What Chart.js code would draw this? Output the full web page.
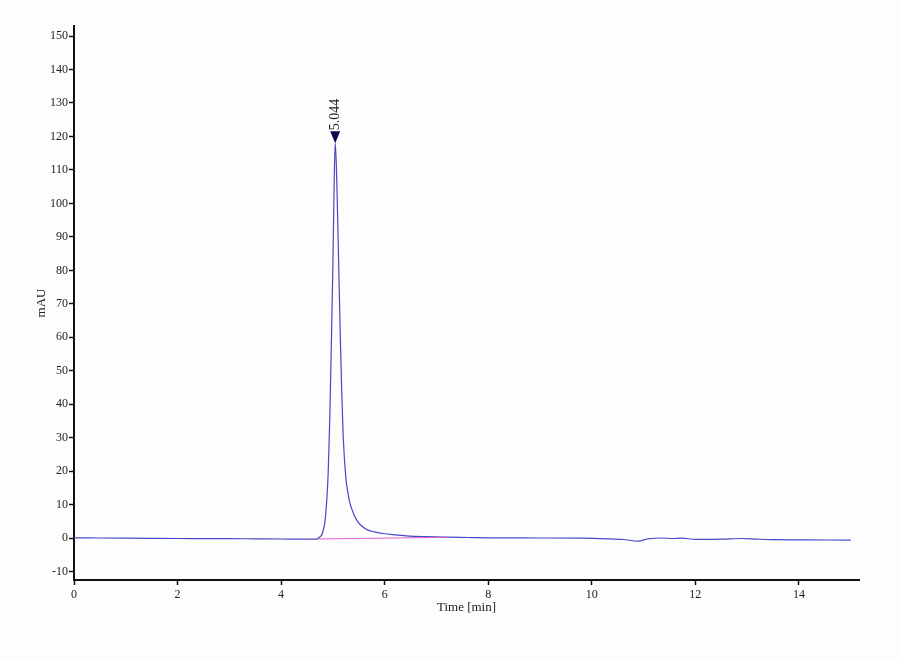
<!DOCTYPE html>
<html>
<head>
<meta charset="utf-8">
<script src="https://cdn.jsdelivr.net/npm/chart.js@4.4.1/dist/chart.umd.min.js"></script>
<style>
  html, body { margin: 0; padding: 0; background: #fdfdfd; }
  #wrap { width: 900px; height: 660px; }
</style>
</head>
<body>
<div id="wrap"><canvas id="grafico" width="900" height="660"></canvas></div>
<script>
// chromatogram signal
var tempos = [0, 0.5, 1.0, 1.5, 2.0, 2.5, 3.0, 3.5, 4.0, 4.5, 4.65, 4.70, 4.73, 4.78, 4.82, 4.85,
    4.88, 4.91, 4.94, 4.97, 5.0, 5.02, 5.044, 5.065, 5.085, 5.10, 5.12, 5.14, 5.17, 5.20,
    5.25, 5.29, 5.33, 5.40, 5.46, 5.55, 5.68, 5.8, 5.97, 6.2, 6.42, 6.8, 7.2, 7.6, 8.0, 9.0, 9.8,
    10.3, 10.6, 10.9, 11.08, 11.35, 11.56, 11.73, 12.0, 12.5, 12.9, 13.2, 13.5, 14.0, 14.5, 15.0];
var sinal = [0.1, 0.05, 0.0, -0.05, -0.1, -0.12, -0.15, -0.2, -0.25, -0.3, -0.3, -0.2, 0.2, 0.9, 2.8, 5.4,
    11, 20, 36, 58, 82, 102, 118, 112, 100, 90, 76, 62, 44, 30,
    18, 13.5, 10.4, 7.3, 5.4, 3.7, 2.4, 1.9, 1.4, 1.0, 0.7, 0.45, 0.3, 0.2, 0.1, 0.05, 0.0,
    -0.2, -0.4, -0.9, -0.2, 0.05, -0.1, 0.0, -0.35, -0.3, -0.1, -0.3, -0.45, -0.5, -0.55, -0.6];

// integration baseline under the peak
var linhaBaseTempos = [4.72, 7.2];
var linhaBaseValores = [-0.25, 0.25];

// peak annotation
var picoTempo = 5.044;
var picoValor = 118;
var picoRotulo = '5.044';

var ticksX = [0, 2, 4, 6, 8, 10, 12, 14];
var ticksY = [-10, 0, 10, 20, 30, 40, 50, 60, 70, 80, 90, 100, 110, 120, 130, 140, 150];

function pontos(xs, ys) {
    var p = [];
    for (var i = 0; i < xs.length; i++) {
        p.push({x: xs[i], y: ys[i]});
    }
    return p;
}

var fonte = {family: '"Liberation Serif", "DejaVu Serif", serif', size: 12};
var fonteTitulo = {family: '"Liberation Serif", "DejaVu Serif", serif', size: 13};

// draws the triangle marker and retention time over the peak
var marcaPico = {
    id: 'marcaPico',
    afterDatasetsDraw: function (chart) {
        var ctx = chart.ctx;
        var px = chart.scales.x.getPixelForValue(picoTempo);
        var py = chart.scales.y.getPixelForValue(picoValor);
        ctx.save();
        ctx.fillStyle = '#0a0a4a';
        ctx.beginPath();
        ctx.moveTo(px, py);
        ctx.lineTo(px - 5, py - 12);
        ctx.lineTo(px + 5, py - 12);
        ctx.closePath();
        ctx.fill();
        ctx.translate(px + 4, py - 13);
        ctx.rotate(-Math.PI / 2);
        ctx.fillStyle = '#222';
        ctx.font = '14px "Liberation Serif", serif';
        ctx.textAlign = 'left';
        ctx.textBaseline = 'alphabetic';
        ctx.fillText(picoRotulo, 0, 0);
        ctx.restore();
    }
};

var ctx = document.getElementById('grafico');
var myChart = new Chart(ctx, {
    type: 'line',
    data: {
        datasets: [{
                data: pontos(linhaBaseTempos, linhaBaseValores),
                borderColor: '#e060c8',
                borderWidth: 1,
                pointRadius: 0,
                tension: 0
            }, {
                data: pontos(tempos, sinal),
                borderColor: '#4848c4',
                borderWidth: 1.2,
                pointRadius: 0,
                cubicInterpolationMode: 'monotone'
            }]
    },
    options: {
        responsive: false,
        animation: false,
        devicePixelRatio: 1,
        layout: {padding: {left: 0, right: 41, top: 26, bottom: 0}},
        plugins: {
            legend: {display: false},
            tooltip: {enabled: false}
        },
        scales: {
            x: {
                type: 'linear',
                min: 0,
                max: 15.16,
                afterFit: function (scale) { scale.height = 80; },
                afterBuildTicks: function (scale) {
                    scale.ticks = ticksX.map(function (v) { return {value: v}; });
                },
                grid: {display: true, drawOnChartArea: false, drawTicks: true, tickLength: 5, tickColor: '#111', tickWidth: 1.5},
                border: {display: true, color: '#111', width: 2},
                ticks: {color: '#222', font: fonte, padding: 3, maxRotation: 0, autoSkip: false},
                title: {display: true, text: 'Time [min]', color: '#222', font: fonteTitulo, padding: {top: 0, bottom: 45}}
            },
            y: {
                type: 'linear',
                min: -12.5,
                max: 153,
                afterFit: function (scale) { scale.width = 74; },
                afterBuildTicks: function (scale) {
                    scale.ticks = ticksY.map(function (v) { return {value: v}; });
                },
                grid: {display: true, drawOnChartArea: false, drawTicks: true, tickLength: 5, tickColor: '#111', tickWidth: 1.5},
                border: {display: true, color: '#111', width: 2},
                ticks: {color: '#222', font: fonte, padding: 1, autoSkip: false},
                title: {display: true, text: 'mAU', color: '#222', font: fonteTitulo, padding: {top: 34, bottom: 0}}
            }
        }
    },
    plugins: [marcaPico]
});
</script>
</body>
</html>
